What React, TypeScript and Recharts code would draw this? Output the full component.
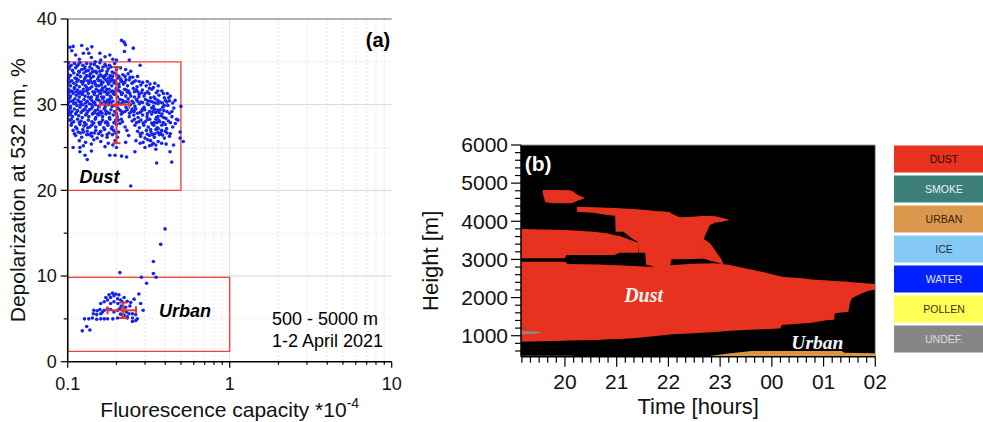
import React from 'react';
import {
  ScatterChart, Scatter, XAxis, YAxis, CartesianGrid, ReferenceArea, ReferenceLine, ReferenceDot,
  ComposedChart, Area, BarChart, Bar, Cell, LabelList,
} from 'recharts';

const FONT = '"Liberation Sans", Arial, Helvetica, sans-serif';
const SERIF = '"Liberation Serif", "DejaVu Serif", "Times New Roman", serif';

// ---------------- Panel (a) data ----------------
const dustPoints: [number, number][] = [
  [0.103,36.7],[0.106,36.3],[0.108,36.8],[0.112,35.8],[0.122,36.9],[0.132,36.5],[0.141,36.75],[0.135,36.0],[0.14,35.5],[0.158,36.0],[0.16,35.2],[0.17,35.6],[0.182,35.8],[0.19,35.3],[0.2,35.2],[0.215,37.5],[0.223,37.3],[0.227,37.0],[0.224,36.2],[0.254,36.6],[0.24,35.2],[0.118,35.3],[0.148,35.0],[0.125,36.0],[0.28,34.6],
  [0.119,24.5],[0.119,25.0],[0.128,24.1],[0.132,23.6],[0.14,24.6],[0.182,24.1],[0.196,24.1],[0.231,23.9],[0.215,24.0],[0.245,20.5],[0.354,23.2],[0.439,23.3],[0.428,24.5],[0.494,26.1],[0.517,25.7],[0.494,26.8],[0.48,28.2],[0.3,25.0],[0.32,25.2],[0.35,24.8],[0.2,25.0],[0.108,25.0],[0.33,25.3],[0.45,25.3],[0.47,28.3],[0.5,29.8],[0.46,30.5],[0.42,30.8],[0.26,24.5],
  [0.101,34.9],[0.105,34.6],[0.110,34.8],[0.114,34.5],[0.119,34.9],[0.124,34.6],[0.131,34.8],[0.137,34.4],[0.146,34.7],[0.158,34.9],[0.172,34.5],[0.195,34.8],[0.212,34.3],
  [0.102,34.2],[0.107,34.0],[0.112,34.3],[0.117,33.9],[0.122,34.1],[0.128,34.4],[0.134,34.0],[0.141,34.2],[0.149,33.9],[0.155,34.3],[0.163,34.0],[0.178,34.2],[0.188,33.8],[0.228,34.1],[0.245,33.9],
  [0.100,33.6],[0.104,33.4],[0.109,33.7],[0.115,33.5],[0.120,33.3],[0.126,33.7],[0.131,33.4],[0.138,33.6],[0.144,33.3],[0.151,33.7],[0.159,33.5],[0.166,33.2],[0.174,33.6],[0.183,33.4],[0.193,33.7],[0.207,33.3],[0.219,33.5],[0.236,33.6],[0.252,33.2],
  [0.101,33.0],[0.106,32.8],[0.111,33.1],[0.116,32.9],[0.121,32.7],[0.127,33.0],[0.133,32.8],[0.139,33.1],[0.146,32.7],[0.153,33.0],[0.160,32.8],[0.168,33.1],[0.176,32.7],[0.185,33.0],[0.195,32.8],[0.204,33.1],[0.216,32.7],[0.229,32.9],[0.243,33.2],[0.262,32.8],[0.290,32.6],[0.322,32.4],[0.345,32.5],
  [0.100,32.4],[0.104,32.2],[0.109,32.5],[0.113,32.3],[0.118,32.1],[0.124,32.4],[0.129,32.2],[0.135,32.5],[0.141,32.1],[0.148,32.4],[0.155,32.2],[0.162,32.5],[0.170,32.1],[0.178,32.4],[0.187,32.2],[0.197,32.5],[0.208,32.1],[0.221,32.4],[0.234,32.2],[0.249,32.5],[0.268,32.1],[0.283,32.3],[0.305,32.2],[0.338,32.0],[0.362,32.2],
  [0.101,31.8],[0.105,31.6],[0.110,31.9],[0.115,31.7],[0.120,31.5],[0.125,31.8],[0.131,31.6],[0.137,31.9],[0.143,31.5],[0.150,31.8],[0.157,31.6],[0.164,31.9],[0.172,31.5],[0.180,31.8],[0.189,31.6],[0.199,31.9],[0.211,31.5],[0.224,31.8],[0.238,31.6],[0.254,31.9],[0.271,31.5],[0.289,31.7],[0.311,31.5],[0.331,31.8],[0.352,31.4],[0.381,31.6],[0.412,31.3],
  [0.100,31.2],[0.104,31.0],[0.108,31.3],[0.113,31.1],[0.118,30.9],[0.123,31.2],[0.128,31.0],[0.134,31.3],[0.140,30.9],[0.146,31.2],[0.153,31.0],[0.160,31.3],[0.167,30.9],[0.175,31.2],[0.183,31.0],[0.192,31.3],[0.203,30.9],[0.215,31.2],[0.228,31.0],[0.242,31.3],[0.258,30.9],[0.276,31.2],[0.296,31.0],[0.318,31.3],[0.341,30.9],[0.366,31.1],[0.395,30.8],[0.430,31.0],
  [0.101,30.6],[0.106,30.4],[0.111,30.7],[0.116,30.5],[0.121,30.3],[0.126,30.6],[0.132,30.4],[0.138,30.7],[0.144,30.3],[0.151,30.6],[0.158,30.4],[0.165,30.7],[0.173,30.3],[0.181,30.6],[0.190,30.4],[0.210,30.6],[0.222,30.3],[0.236,30.7],[0.250,30.4],[0.266,30.6],[0.283,30.3],[0.302,30.6],[0.324,30.4],[0.347,30.7],[0.372,30.3],[0.401,30.5],[0.445,30.2],
  [0.100,30.0],[0.104,29.8],[0.109,30.1],[0.114,29.9],[0.119,29.7],[0.124,30.0],[0.130,29.8],[0.136,30.1],[0.142,29.7],[0.148,30.0],[0.155,29.8],[0.162,30.1],[0.170,29.7],[0.178,30.0],[0.188,29.8],[0.214,30.1],[0.229,29.7],[0.244,30.0],[0.260,29.8],[0.277,30.1],[0.296,29.7],[0.316,30.0],[0.338,29.8],[0.361,30.1],[0.386,29.7],[0.415,29.9],[0.452,29.6],
  [0.101,29.4],[0.106,29.2],[0.110,29.5],[0.115,29.3],[0.121,29.1],[0.127,29.4],[0.133,29.2],[0.139,29.5],[0.146,29.1],[0.153,29.4],[0.160,29.2],[0.168,29.5],[0.176,29.1],[0.185,29.4],[0.195,29.2],[0.206,29.5],[0.219,29.1],[0.233,29.4],[0.247,29.2],[0.263,29.5],[0.280,29.1],[0.299,29.4],[0.320,29.2],[0.343,29.5],[0.366,29.1],[0.392,29.3],[0.425,29.0],
  [0.102,28.8],[0.107,28.6],[0.112,28.9],[0.117,28.7],[0.123,28.5],[0.129,28.8],[0.135,28.6],[0.142,28.9],[0.149,28.5],[0.156,28.8],[0.164,28.6],[0.172,28.9],[0.181,28.5],[0.191,28.8],[0.202,28.6],[0.214,28.9],[0.240,28.6],[0.256,28.8],[0.272,28.5],[0.290,28.8],[0.309,28.6],[0.330,28.9],[0.353,28.5],[0.377,28.7],[0.404,28.4],[0.440,28.6],
  [0.103,28.2],[0.109,28.0],[0.115,28.3],[0.121,28.1],[0.127,27.9],[0.134,28.2],[0.141,28.0],[0.148,28.3],[0.156,27.9],[0.164,28.2],[0.173,28.0],[0.182,28.3],[0.193,27.9],[0.205,28.2],[0.218,28.0],[0.250,28.1],[0.266,27.9],[0.283,28.2],[0.301,28.0],[0.321,28.3],[0.342,27.9],[0.365,28.2],[0.389,27.9],[0.418,28.1],[0.462,27.8],
  [0.105,27.6],[0.112,27.4],[0.119,27.7],[0.126,27.5],[0.133,27.3],[0.141,27.6],[0.149,27.4],[0.158,27.7],[0.167,27.3],[0.177,27.6],[0.188,27.4],[0.200,27.7],[0.226,27.4],[0.260,27.6],[0.277,27.3],[0.295,27.6],[0.314,27.4],[0.335,27.7],[0.357,27.3],[0.381,27.6],[0.408,27.2],[0.445,27.4],
  [0.108,27.0],[0.116,26.8],[0.124,27.1],[0.132,26.9],[0.140,26.7],[0.149,27.0],[0.159,26.8],[0.169,27.1],[0.180,26.7],[0.192,27.0],[0.206,26.8],[0.232,27.0],[0.270,26.9],[0.288,26.7],[0.306,27.0],[0.327,26.8],[0.350,27.1],[0.374,26.7],[0.400,26.9],[0.430,26.6],
  [0.112,26.4],[0.122,26.2],[0.131,26.5],[0.141,26.3],[0.152,26.1],[0.163,26.4],[0.175,26.2],[0.189,26.5],[0.203,26.2],[0.238,26.4],[0.282,26.3],[0.300,26.1],[0.320,26.4],[0.343,26.2],[0.368,26.5],[0.395,26.1],[0.425,26.3],
  [0.118,25.8],[0.129,25.6],[0.145,25.9],[0.160,25.7],[0.178,25.5],[0.196,25.8],[0.228,25.6],[0.264,25.8],[0.292,25.6],[0.312,25.9],[0.337,25.5],[0.362,25.7],[0.405,25.4],
  [0.147,32.7],[0.156,32.8],[0.165,32.6],[0.172,32.9],[0.180,32.6],[0.188,32.9],[0.158,31.3],[0.168,31.5],[0.178,31.4],[0.186,31.5],[0.194,31.2],[0.152,30.9],[0.162,30.9],[0.171,30.0],[0.180,30.3],[0.141,30.0],[0.134,30.9],[0.125,31.5],[0.117,31.3],[0.108,31.5],[0.112,30.2],[0.120,30.0],[0.128,29.5],[0.136,29.4],[0.144,29.0],[0.152,28.9],[0.163,29.0],[0.104,29.6],[0.103,30.8],[0.165,33.3],[0.158,33.9],[0.175,33.9],[0.185,34.4],[0.170,34.7],[0.130,33.9],[0.123,32.6],[0.138,32.8],[0.145,33.9],[0.154,31.6],[0.186,30.8],[0.196,29.9],[0.204,29.6],[0.198,31.6],[0.207,32.4],[0.230,31.7],[0.245,31.0],[0.258,31.5],[0.275,30.9],[0.300,31.3],[0.310,30.1],[0.330,29.6],[0.349,29.1],[0.360,28.6],[0.370,28.0],[0.355,27.9],[0.340,27.6],[0.325,27.1],[0.345,26.6],[0.362,27.2],[0.380,27.0],[0.390,28.5],[0.372,29.4],[0.395,29.9],[0.410,30.3],[0.348,30.2],[0.325,30.8],[0.290,29.5],[0.270,29.0],[0.250,29.5],[0.237,30.3],[0.226,29.2],[0.214,28.3],[0.198,28.2],[0.186,27.2],[0.171,27.9],[0.160,26.9],[0.146,26.7],[0.137,27.4],[0.125,26.8],[0.114,27.2],[0.105,28.3],[0.102,29.1],[0.110,32.0],[0.131,32.0],[0.150,32.2],
  [0.103,34.45],[0.116,34.65],[0.127,34.2],[0.139,34.75],[0.152,34.45],[0.165,34.4],[0.181,34.6],[0.2,34.1],
  [0.102,33.25],[0.113,33.05],[0.118,33.8],[0.129,33.2],[0.136,33.35],[0.142,33.8],[0.156,33.3],[0.171,33.4],[0.179,33.1],[0.189,33.3],[0.2,33.5],[0.213,33.0],[0.226,33.3],[0.24,32.9],[0.27,33.3],
  [0.103,32.65],[0.114,32.7],[0.126,32.75],[0.142,32.55],[0.161,32.3],[0.183,32.7],[0.193,32.55],[0.213,32.8],[0.225,32.6],[0.255,32.65],[0.276,32.7],[0.31,32.7],
  [0.102,31.45],[0.113,31.5],[0.122,31.25],[0.133,31.75],[0.147,31.45],[0.162,31.7],[0.174,31.8],[0.205,31.7],[0.218,31.35],[0.234,31.45],[0.265,31.75],[0.285,31.4],[0.32,31.9],[0.36,31.6],[0.39,31.3],
  [0.102,30.3],[0.108,30.45],[0.118,30.35],[0.129,30.2],[0.14,30.55],[0.147,30.25],[0.155,30.55],[0.168,30.35],[0.176,30.55],[0.185,30.2],[0.205,30.25],[0.218,30.5],[0.228,30.35],[0.255,30.2],[0.27,30.4],[0.29,30.25],[0.312,30.45],[0.335,30.3],[0.36,30.5],[0.385,30.2],[0.425,30.45],
  [0.104,28.95],[0.113,29.05],[0.124,29.3],[0.131,28.95],[0.148,29.3],[0.157,29.05],[0.172,29.25],[0.181,29.0],[0.2,28.95],[0.212,29.3],[0.241,29.0],[0.257,29.2],[0.287,29.3],[0.31,28.95],[0.336,29.2],[0.358,29.35],[0.382,28.9],[0.41,29.2],[0.44,29.2],
  [0.106,27.85],[0.118,27.95],[0.13,27.7],[0.145,27.85],[0.16,27.95],[0.177,27.85],[0.21,27.8],[0.258,28.3],[0.275,28.0],[0.292,27.85],[0.31,28.25],[0.33,27.85],[0.35,28.3],[0.4,27.7],[0.43,27.9],
  [0.11,26.6],[0.12,26.7],[0.136,26.5],[0.155,26.6],[0.175,26.5],[0.197,26.7],[0.28,26.6],[0.31,26.55],[0.335,26.5],[0.36,26.75],[0.385,26.45],[0.41,26.7],
  [0.125,25.2],[0.14,25.4],[0.17,25.1],[0.19,25.3],[0.28,25.5],[0.325,25.8],[0.35,25.3],[0.38,25.5],
];

const urbanPoints: [number, number][] = [
  [0.123,3.6],[0.131,4.1],[0.137,3.7],[0.127,5.0],[0.135,5.0],[0.142,5.1],[0.151,4.95],[0.160,5.0],[0.168,5.0],[0.176,5.0],[0.190,5.0],[0.203,5.1],[0.220,5.25],[0.233,5.1],[0.251,5.1],[0.269,5.0],
  [0.145,6.0],[0.152,5.95],[0.158,6.1],[0.164,5.8],[0.144,5.6],[0.151,5.5],[0.160,5.6],[0.168,6.0],[0.176,6.15],[0.184,6.1],[0.193,5.8],[0.203,6.0],[0.210,6.2],[0.221,5.95],[0.231,5.8],[0.239,5.6],[0.251,5.6],[0.263,5.5],
  [0.160,6.8],[0.168,7.0],[0.176,7.2],[0.184,7.5],[0.193,7.7],[0.203,7.35],[0.212,7.2],[0.223,7.5],[0.172,7.5],[0.180,7.8],[0.189,8.0],[0.198,7.9],[0.207,7.8],[0.217,7.0],[0.233,7.05],[0.245,6.9],[0.257,7.3],[0.275,7.9],[0.282,6.8],[0.292,6.0],
  [0.251,4.7],[0.263,4.8],[0.233,5.25],[0.212,5.55],[0.223,5.45],[0.204,6.8],[0.193,7.0],[0.184,6.8],[0.214,6.5],[0.228,6.35],[0.242,6.5],
  [0.210,10.4],[0.285,9.85],[0.351,9.85],[0.307,9.15],[0.338,11.7],[0.338,10.3],[0.375,13.7],[0.399,15.5],
];

// class means with [minus, plus] spreads
const classCentres = [
  { name: 'Dust', x: 0.2, y: 30.0, ex: [0.042, 0.04], ey: [4.5, 4.4] },
  { name: 'Urban', x: 0.22, y: 6.0, ex: [0.044, 0.044], ey: [0.9, 0.9] },
];

const aXMajor = [0.1, 1, 10];
const aXMinor = [0.2, 0.3, 0.4, 0.5, 0.6, 0.7, 0.8, 0.9, 2, 3, 4, 5, 6, 7, 8, 9];
const aYMajor = [0, 10, 20, 30, 40];
const aYMinor = [5, 15, 25, 35];

// ---------------- Panel (b) data: [time (h), lower height, upper height] ----------------
const dustMain: [number, number, number][] = [
  [19.15, 843, 2941], [20.0, 870, 2941], [20.05, 872, 2880], [20.64, 886, 2870], [20.84, 905, 2855],
  [21.06, 915, 2845], [21.32, 935, 2830], [21.61, 974, 2810], [21.71, 985, 2810], [22.09, 1040, 2853],
  [22.48, 1065, 2890], [22.9, 1100, 2897], [23.19, 1130, 2853], [23.48, 1150, 2766], [23.8, 1168, 2678],
  [24.16, 1192, 2560], [24.19, 1280, 2547], [24.64, 1324, 2500], [24.77, 1340, 2477], [25.09, 1411, 2445],
  [25.2, 1420, 2435], [25.22, 1586, 2432], [25.48, 1630, 2416], [25.51, 1848, 2410], [25.54, 1979, 2400],
  [25.73, 2110, 2385], [25.86, 2170, 2372], [26.0, 2215, 2355],
];
const dustMiddle: [number, number, number][] = [
  [19.15, 3028, 3797], [20.0, 3028, 3771], [20.03, 3115, 3771], [20.55, 3115, 3727], [20.81, 3115, 3684],
  [20.95, 3115, 3640], [21.06, 3177, 3614], [21.32, 3177, 3483], [21.42, 3177, 3440],
];
const dustUpper: [number, number, number][] = [
  [20.23, 4252, 4383], [20.55, 4226, 4365], [20.81, 4164, 4357], [20.97, 4145, 4348], [20.98, 3727, 4348],
  [21.13, 3727, 4335], [21.32, 3526, 4320], [21.41, 3465, 4313], [21.43, 3177, 4310], [21.55, 3177, 4298],
  [21.57, 2860, 4296], [21.68, 2830, 4280], [21.71, 2800, 4269], [21.97, 2800, 4252], [22.03, 2830, 4240],
  [22.06, 3002, 4200], [22.22, 3002, 4103], [22.48, 3010, 4121], [22.64, 3019, 4138], [22.7, 3600, 4138],
  [22.8, 3902, 4138], [22.9, 3963, 4130], [23.03, 3990, 4090], [23.16, 4025, 4045], [23.19, 4033, 4035],
];
const dustLobe: [number, number, number][] = [
  [22.64, 3019, 3560], [22.72, 3010, 3500], [22.8, 2967, 3430], [22.9, 2941, 3247], [23.03, 2880, 2984], [23.06, 2870, 2880],
];
const dustTop: [number, number, number][] = [
  [19.57, 4733, 4820], [19.62, 4500, 4820], [19.77, 4470, 4820], [20.1, 4470, 4815], [20.16, 4485, 4780],
  [20.23, 4530, 4700], [20.37, 4600, 4620],
];
const undefLayer: [number, number, number][] = [
  [19.15, 1040, 1122], [19.45, 1060, 1110], [19.55, 1080, 1090],
];
const urbanEarly: [number, number, number][] = [
  [19.15, 450, 478], [20.16, 450, 478],
];
const urbanLate: [number, number, number][] = [
  [22.38, 450, 460], [22.8, 450, 470], [23.16, 450, 537], [23.61, 450, 598], [25.35, 450, 598], [25.4, 450, 554], [26.0, 450, 540],
];

const bXMajor = [20, 21, 22, 23, 24, 25, 26];
const bXMinor = [
  19.1667, 19.3333, 19.5, 19.6667, 19.8333,
  20.1667, 20.3333, 20.5, 20.6667, 20.8333,
  21.1667, 21.3333, 21.5, 21.6667, 21.8333,
  22.1667, 22.3333, 22.5, 22.6667, 22.8333,
  23.1667, 23.3333, 23.5, 23.6667, 23.8333,
  24.1667, 24.3333, 24.5, 24.6667, 24.8333,
  25.1667, 25.3333, 25.5, 25.6667, 25.8333,
];
const bYMajor = [1000, 2000, 3000, 4000, 5000, 6000];
const bYMinor = [600, 800, 1200, 1400, 1600, 1800, 2200, 2400, 2600, 2800, 3200, 3400, 3600, 3800, 4200, 4400, 4600, 4800, 5200, 5400, 5600, 5800];

// ---------------- Legend ----------------
const legendClasses = ['DUST', 'SMOKE', 'URBAN', 'ICE', 'WATER', 'POLLEN', 'UNDEF.'];
const legendFills = ['#e6321f', '#3c7f79', '#db984c', '#84c9f4', '#0020ff', '#ffff55', '#868686'];
const legendTextColors = ['#2a0603', '#e8f3f2', '#35240c', '#1a2d3c', '#e2e5ff', '#33330f', '#dedede'];

const DUST_RED = '#e6321f';
const URBAN_ORANGE = '#d9953f';
const UNDEF_GREY = '#8a8a8a';
const BAR_RED = '#de3a2c';

// ---------------- helpers ----------------
type TickOpts = {
  side: 'left' | 'right' | 'bottom';
  major: number[];
  majorLen: number;
  minorLen: number;
  fontSize?: number;
  gap?: number;
  format?: (v: number) => string;
  stroke?: string;
};

const makeTick = (o: TickOpts) => (props: any) => {
  const { x, y, payload } = props;
  const v = Number(payload?.value);
  const isMajor = o.major.some((m) => Math.abs(m - v) < 1e-6);
  const len = isMajor ? o.majorLen : o.minorLen;
  const stroke = o.stroke ?? '#000';
  if (o.side === 'bottom') {
    return (
      <g>
        <line x1={x} y1={y} x2={x} y2={y + len} stroke={stroke} strokeWidth={1.2} />
        {isMajor && o.format ? (
          <text x={x} y={y + (o.gap ?? 0)} textAnchor="middle" fontSize={o.fontSize} fontFamily={FONT} fill="#111">
            {o.format(v)}
          </text>
        ) : null}
      </g>
    );
  }
  return (
    <g>
      <line x1={x} y1={y} x2={x - len} y2={y} stroke={stroke} strokeWidth={1.2} />
      {o.side === 'left' && isMajor && o.format ? (
        <text x={x - len - (o.gap ?? 3)} y={y} dy="0.35em" textAnchor="end" fontSize={o.fontSize} fontFamily={FONT} fill="#111">
          {o.format(v)}
        </text>
      ) : null}
    </g>
  );
};

const textShape = (text: string, style: Record<string, any>) => (p: any) => (
  <text x={p.cx} y={p.cy} {...style}>{text}</text>
);

// error-bar segment with end caps (endpoints come from the axis scales via ReferenceLine segment)
const CappedLine = (p: any) => {
  const { x1, y1, x2, y2 } = p;
  const vertical = Math.abs(x1 - x2) < Math.abs(y1 - y2);
  const c = 4;
  return (
    <g>
      <line x1={x1} y1={y1} x2={x2} y2={y2} stroke={BAR_RED} strokeWidth={2} />
      {vertical ? (
        <>
          <line x1={x1 - c} y1={y1} x2={x1 + c} y2={y1} stroke={BAR_RED} strokeWidth={2} />
          <line x1={x2 - c} y1={y2} x2={x2 + c} y2={y2} stroke={BAR_RED} strokeWidth={2} />
        </>
      ) : (
        <>
          <line x1={x1} y1={y1 - c} x2={x1} y2={y1 + c} stroke={BAR_RED} strokeWidth={2} />
          <line x1={x2} y1={y2 - c} x2={x2} y2={y2 + c} stroke={BAR_RED} strokeWidth={2} />
        </>
      )}
    </g>
  );
};

const toPts = (arr: [number, number][]) => arr.map(([x, y]) => ({ x, y }));
const toRange = (rows: [number, number, number][]) => rows.map(([t, lo, hi]) => ({ t, range: [lo, hi] }));

const BlueDot = (p: any) => <circle cx={p.cx} cy={p.cy} r={1.8} fill="#1424ee" />;
const RedDot = (p: any) => <circle cx={p.cx} cy={p.cy} r={2.2} fill={BAR_RED} />;

const fmtA = (v: number) => String(v);
const fmtHour = (v: number) => String(Math.round(v) % 24).padStart(2, '0');

function PanelA() {
  return (
    <ScatterChart width={410} height={422} margin={{ top: 19, right: 18.3, bottom: 20.3, left: 7.7 }}>
      <CartesianGrid stroke="#e6e6e6" strokeDasharray="2 2" horizontalValues={aYMinor} verticalValues={aXMinor} />
      <CartesianGrid stroke="#d8d8d8" horizontalValues={[10, 20, 30]} verticalValues={[1]} />
      <XAxis
        type="number" dataKey="x" scale="log" domain={[0.1, 10]} allowDataOverflow
        ticks={[...aXMajor, ...aXMinor].sort((a, b) => a - b)} interval={0}
        tickSize={0} tickMargin={0} height={40}
        axisLine={{ stroke: '#000', strokeWidth: 1.5 }}
        tick={makeTick({ side: 'bottom', major: aXMajor, majorLen: 6, minorLen: 3, fontSize: 18, gap: 28, format: fmtA })}
        label={(p: any) => {
          const vb = p.viewBox;
          return (
            <text x={vb.x + vb.width / 2} y={vb.y + 55} textAnchor="middle" fontSize={21} fontFamily={FONT} fill="#111">
              Fluorescence capacity *10<tspan fontSize={14} dy={-9}>-4</tspan>
            </text>
          );
        }}
      />
      <YAxis
        type="number" dataKey="y" domain={[0, 40]} allowDataOverflow
        ticks={[...aYMajor, ...aYMinor].sort((a, b) => a - b)} interval={0}
        tickSize={0} tickMargin={0} width={60}
        axisLine={{ stroke: '#000', strokeWidth: 1.5 }}
        tick={makeTick({ side: 'left', major: aYMajor, majorLen: 7, minorLen: 4, fontSize: 18, gap: 4, format: fmtA })}
        label={(p: any) => {
          const vb = p.viewBox;
          const cx = vb.x + 17.8;
          const cy = vb.y + vb.height / 2;
          return (
            <text x={cx} y={cy} transform={`rotate(-90 ${cx} ${cy})`} textAnchor="middle" fontSize={21} fontFamily={FONT} fill="#111">
              Depolarization at 532 nm, %
            </text>
          );
        }}
      />
      <YAxis
        yAxisId="right" orientation="right" type="number" domain={[0, 40]} allowDataOverflow
        ticks={[...aYMajor, ...aYMinor].sort((a, b) => a - b)} interval={0}
        tickSize={0} tickMargin={0} width={0}
        axisLine={{ stroke: '#444', strokeWidth: 1.2 }}
        tick={makeTick({ side: 'right', major: aYMajor, majorLen: 7, minorLen: 4, stroke: '#444' })}
      />
      <ReferenceLine y={40} stroke="#666" strokeWidth={1.2} />
      <ReferenceArea x1={0.1} x2={0.5} y1={20} y2={35} fill="none" stroke="#ef4136" strokeWidth={1.3} />
      <ReferenceArea x1={0.1} x2={1} y1={1.2} y2={9.85} fill="none" stroke="#ef4136" strokeWidth={1.3} />
      <Scatter data={toPts(dustPoints)} shape={BlueDot} isAnimationActive={false} />
      <Scatter data={toPts(urbanPoints)} shape={BlueDot} isAnimationActive={false} />
      {classCentres.map((c) => (
        <ReferenceLine
          key={`v-${c.name}`}
          segment={[{ x: c.x, y: c.y - c.ey[0] }, { x: c.x, y: c.y + c.ey[1] }]}
          shape={CappedLine}
          zIndex={800}
        />
      ))}
      {classCentres.map((c) => (
        <ReferenceLine
          key={`h-${c.name}`}
          segment={[{ x: c.x - c.ex[0], y: c.y }, { x: c.x + c.ex[1], y: c.y }]}
          shape={CappedLine}
          zIndex={800}
        />
      ))}
      {classCentres.map((c) => (
        <ReferenceDot key={`c-${c.name}`} x={c.x} y={c.y} r={2.2} shape={RedDot} zIndex={810} />
      ))}
      <ReferenceDot x={0.157} y={21.6} r={1} shape={textShape('Dust', { textAnchor: 'middle', dy: '0.35em', fontSize: 18, fontWeight: 700, fontStyle: 'italic', fontFamily: FONT, fill: '#000' })} />
      <ReferenceDot x={0.53} y={5.92} r={1} shape={textShape('Urban', { textAnchor: 'middle', dy: '0.35em', fontSize: 18, fontWeight: 700, fontStyle: 'italic', fontFamily: FONT, fill: '#000' })} />
      <ReferenceDot x={8.23} y={37.5} r={1} shape={textShape('(a)', { textAnchor: 'middle', dy: '0.35em', fontSize: 20, fontWeight: 700, fontFamily: FONT, fill: '#000' })} />
      <ReferenceDot x={1.824} y={4.34} r={1} shape={textShape('500 - 5000 m', { textAnchor: 'start', fontSize: 18, fontFamily: FONT, fill: '#000' })} />
      <ReferenceDot x={1.824} y={1.75} r={1} shape={textShape('1-2 April 2021', { textAnchor: 'start', fontSize: 18, fontFamily: FONT, fill: '#000' })} />
    </ScatterChart>
  );
}

const areaProps = { type: 'linear' as const, stroke: 'none', fillOpacity: 1, isAnimationActive: false, dot: false, activeDot: false };

function PanelB() {
  return (
    <ComposedChart width={470} height={422} margin={{ top: 145, right: 14.7, bottom: 20.3, left: 21 }}>
      <CartesianGrid fill="#000" horizontal={false} vertical={false} />
      <XAxis
        type="number" dataKey="t" domain={[19.15, 26]} allowDataOverflow
        ticks={[...bXMajor, ...bXMinor].sort((a, b) => a - b)} interval={0}
        tickSize={0} tickMargin={0} height={45}
        axisLine={{ stroke: '#000', strokeWidth: 1.5 }}
        tick={makeTick({ side: 'bottom', major: bXMajor, majorLen: 10, minorLen: 6, fontSize: 21, gap: 32.5, format: fmtHour })}
        label={(p: any) => {
          const vb = p.viewBox;
          return (
            <text x={vb.x + vb.width / 2} y={vb.y + 57.3} textAnchor="middle" fontSize={22} fontFamily={FONT} fill="#111">
              Time [hours]
            </text>
          );
        }}
      />
      <YAxis
        type="number" domain={[450, 6000]} allowDataOverflow
        ticks={[...bYMajor, ...bYMinor].sort((a, b) => a - b)} interval={0}
        tickSize={0} tickMargin={0} width={80}
        axisLine={{ stroke: '#000', strokeWidth: 1.5 }}
        tick={makeTick({ side: 'left', major: bYMajor, majorLen: 10, minorLen: 6, fontSize: 21, gap: 3, format: fmtA })}
        label={(p: any) => {
          const vb = p.viewBox;
          const cx = vb.x - 2.5;
          const cy = vb.y + vb.height / 2 + 10;
          return (
            <text x={cx} y={cy} transform={`rotate(-90 ${cx} ${cy})`} textAnchor="middle" fontSize={22} fontFamily={FONT} fill="#111">
              Height [m]
            </text>
          );
        }}
      />
      <Area data={toRange(dustMain)} dataKey="range" fill={DUST_RED} {...areaProps} />
      <Area data={toRange(dustMiddle)} dataKey="range" fill={DUST_RED} {...areaProps} />
      <Area data={toRange(dustUpper)} dataKey="range" fill={DUST_RED} {...areaProps} />
      <Area data={toRange(dustLobe)} dataKey="range" fill={DUST_RED} {...areaProps} />
      <Area data={toRange(dustTop)} dataKey="range" fill={DUST_RED} {...areaProps} />
      <Area data={toRange(undefLayer)} dataKey="range" fill={UNDEF_GREY} {...areaProps} />
      <Area data={toRange(urbanEarly)} dataKey="range" fill={URBAN_ORANGE} {...areaProps} />
      <Area data={toRange(urbanLate)} dataKey="range" fill={URBAN_ORANGE} {...areaProps} />
      <ReferenceLine y={6000} stroke="#999" strokeWidth={1.2} />
      <ReferenceLine x={26} stroke="#aaa" strokeWidth={1} />
      <ReferenceDot x={21.52} y={2066} r={1} shape={textShape('Dust', { textAnchor: 'middle', dy: '0.35em', fontSize: 20, fontWeight: 700, fontStyle: 'italic', fontFamily: SERIF, fill: '#fff4f0' })} />
      <ReferenceDot x={24.88} y={834} r={1} shape={textShape('Urban', { textAnchor: 'middle', dy: '0.35em', fontSize: 19.5, fontWeight: 700, fontStyle: 'italic', fontFamily: SERIF, fill: '#f4f6ff' })} />
      <ReferenceDot x={19.48} y={5502} r={1} shape={textShape('(b)', { textAnchor: 'middle', dy: '0.35em', fontSize: 21, fontWeight: 700, fontFamily: FONT, fill: '#fff' })} />
    </ComposedChart>
  );
}

const LegendLabel = (p: any) => (
  <text
    x={p.x + p.width / 2} y={p.y + p.height / 2} dy="0.35em" textAnchor="middle"
    fontSize={10.5} fontFamily={FONT} fill={legendTextColors[p.index] ?? '#000'}
  >
    {p.value}
  </text>
);

function LegendBoxes() {
  const rows = legendClasses.map((name) => ({ name, value: 1 }));
  return (
    <BarChart width={100} height={210} data={rows} layout="vertical" margin={{ top: 0, right: 0, bottom: 0, left: 0 }} barCategoryGap={1.5}>
      <XAxis type="number" domain={[0, 1]} hide />
      <YAxis type="category" dataKey="name" hide width={0} />
      <Bar dataKey="value" isAnimationActive={false}>
        {rows.map((r, i) => (
          <Cell key={r.name} fill={legendFills[i]} />
        ))}
        <LabelList dataKey="name" content={LegendLabel} />
      </Bar>
    </BarChart>
  );
}

export default function App() {
  return (
    <div style={{ position: 'absolute', left: 0, top: 0, width: 983, height: 422, overflow: 'hidden', background: '#fff', fontFamily: FONT }}>
      <div style={{ position: 'absolute', left: 0, top: 0 }}>
        <PanelA />
      </div>
      <div style={{ position: 'absolute', left: 420, top: 0 }}>
        <PanelB />
      </div>
      <div style={{ position: 'absolute', left: 894, top: 143.5 }}>
        <LegendBoxes />
      </div>
    </div>
  );
}
